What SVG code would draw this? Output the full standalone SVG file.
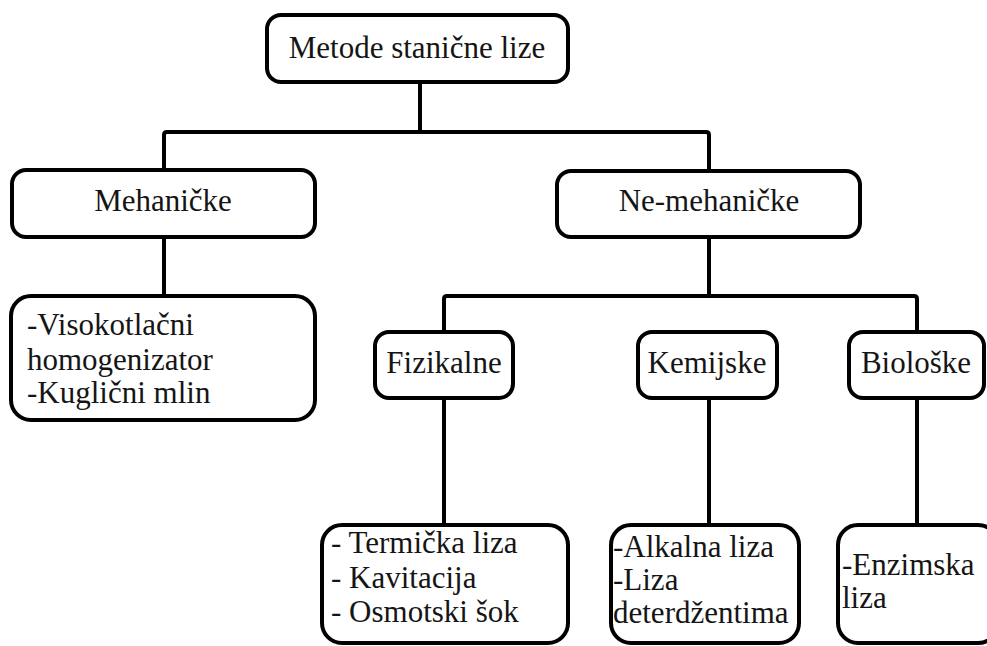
<svg xmlns="http://www.w3.org/2000/svg" width="987" height="646" viewBox="0 0 987 646">
<style>
.box{fill:#fff;stroke:#000;stroke-width:4}
.ln{fill:none;stroke:#000;stroke-width:4;stroke-linejoin:round}
text{font-family:"Liberation Serif","Times New Roman","DejaVu Serif",serif;font-size:31px;fill:#151515}
.c{text-anchor:middle}
</style>
<rect width="987" height="646" fill="#fff"/>
<g id="connectors">
<path class="ln" d="M420 82V132"/>
<path class="ln" d="M164 170V135Q164 132 167 132H706Q709 132 709 135V171"/>
<path class="ln" d="M164 237V296"/>
<path class="ln" d="M709 237V296"/>
<path class="ln" d="M444 332V299Q444 296 447 296H914Q917 296 917 299V332"/>
<path class="ln" d="M444 398V525"/>
<path class="ln" d="M709 398V525"/>
<path class="ln" d="M917 398V525"/>
</g>
<g id="n-root"><rect class="box" x="267" y="15" width="301" height="67" rx="14"/><text class="c" x="417" y="58">Metode stanične lize</text></g>
<g id="n-meh"><rect class="box" x="12" y="170" width="303" height="67" rx="14"/><text class="c" x="163" y="211">Mehaničke</text></g>
<g id="n-nemeh"><rect class="box" x="557" y="171" width="303" height="66" rx="14"/><text class="c" x="709" y="211">Ne-mehaničke</text></g>
<g id="n-mehlist"><rect class="box" x="11" y="296" width="304" height="124" rx="20"/>
<text x="27" y="335">-Visokotlačni</text><text x="27" y="370">homogenizator</text><text x="27" y="403">-Kuglični mlin</text></g>
<g id="n-fiz"><rect class="box" x="375" y="332" width="138" height="66" rx="14"/><text class="c" x="444" y="373">Fizikalne</text></g>
<g id="n-kem"><rect class="box" x="638" y="332" width="139" height="66" rx="14"/><text class="c" x="707" y="373">Kemijske</text></g>
<g id="n-bio"><rect class="box" x="849" y="332" width="135" height="66" rx="14"/><text class="c" x="916" y="373">Biološke</text></g>
<g id="n-fizlist"><rect class="box" x="322" y="525" width="246" height="118" rx="20"/>
<text x="331" y="553">- Termička liza</text><text x="331" y="588">- Kavitacija</text><text x="331" y="622">- Osmotski šok</text></g>
<g id="n-kemlist"><rect class="box" x="611" y="525" width="188" height="118" rx="20"/>
<text x="613" y="557">-Alkalna liza</text><text x="613" y="590">-Liza</text><text x="613" y="623">deterdžentima</text></g>
<g id="n-biolist"><rect class="box" x="838" y="525" width="160" height="118" rx="20"/>
<text x="842" y="575">-Enzimska</text><text x="842" y="608">liza</text></g>
</svg>
